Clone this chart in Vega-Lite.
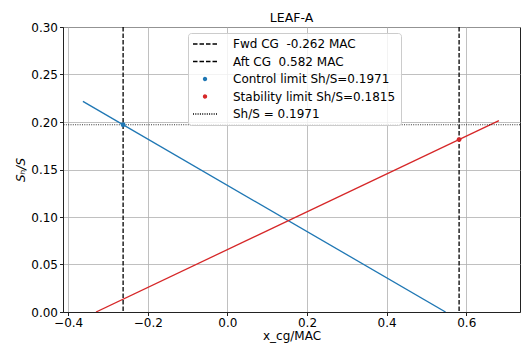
{
  "$schema": "https://vega.github.io/schema/vega-lite/v6.json",
  "width": 457,
  "height": 285,
  "autosize": {"type": "none"},
  "padding": {"left": 63, "top": 27, "right": 8, "bottom": 32},
  "background": "white",
  "title": {"text": "LEAF-A", "fontSize": 12.5, "font": "DejaVu Sans", "fontWeight": "normal", "color": "black", "offset": -3.5},
  "config": {
    "view": {"stroke": "#222", "strokeWidth": 1},
    "axis": {
      "labelFont": "DejaVu Sans", "labelFontSize": 12, "labelColor": "black",
      "titleFont": "DejaVu Sans", "titleFontSize": 12, "titleFontWeight": "normal", "titleColor": "black",
      "tickColor": "#222", "domainColor": "#222", "tickSize": 3.5, "labelPadding": 2,
      "gridColor": "#b0b0b0", "gridWidth": 0.8
    },
    "legend": {
      "orient": "none", "legendX": 125, "legendY": 6,
      "labelFont": "DejaVu Sans", "labelFontSize": 12, "labelColor": "black", "labelLimit": 300,
      "symbolSize": 100, "symbolStrokeWidth": 1.3, "symbolOffset": 6, "labelOffset": 22,
      "rowPadding": 5.5, "padding": 5,
      "fillColor": "rgba(255,255,255,0.8)", "strokeColor": "#cccccc", "cornerRadius": 3
    }
  },
  "datasets": {
    "lines": [
      {"series": "Control", "x": -0.363, "y": 0.2217},
      {"series": "Control", "x": 0.548, "y": 0.0},
      {"series": "Stability", "x": -0.33, "y": 0.0},
      {"series": "Stability", "x": 0.682, "y": 0.2014}
    ],
    "cg": [
      {"x": -0.262, "label": "Fwd CG\u00a0 -0.262 MAC"},
      {"x": 0.582, "label": "Aft CG\u00a0 0.582 MAC"}
    ],
    "pts": [
      {"x": -0.262, "y": 0.1971, "label": "Control limit Sh/S=0.1971"},
      {"x": 0.582, "y": 0.1815, "label": "Stability limit Sh/S=0.1815"}
    ],
    "hline": [
      {"y": 0.1971, "label": "Sh/S = 0.1971"}
    ]
  },
  "layer": [
    {
      "data": {"name": "lines"},
      "mark": {"type": "line", "strokeWidth": 1.3, "clip": true},
      "encoding": {
        "x": {
          "field": "x", "type": "quantitative",
          "scale": {"domain": [-0.413, 0.735], "nice": false, "zero": false},
          "axis": {"title": "x_cg/MAC", "values": [-0.4, -0.2, 0, 0.2, 0.4, 0.6], "format": ".1f", "labelExpr": "replace(datum.label, '-', '−')", "titlePadding": 2, "grid": true}
        },
        "y": {
          "field": "y", "type": "quantitative",
          "scale": {"domain": [0, 0.3], "nice": false, "zero": false},
          "axis": {"title": "Sₕ/S", "titleFontStyle": "italic", "values": [0, 0.05, 0.1, 0.15, 0.2, 0.25, 0.3], "format": ".2f", "titlePadding": 3, "grid": true}
        },
        "detail": {"field": "series", "type": "nominal"},
        "stroke": {"field": "series", "type": "nominal", "scale": {"domain": ["Control", "Stability"], "range": ["#1f77b4", "#d62728"]}, "legend": null}
      }
    },
    {
      "data": {"name": "hline"},
      "mark": {"type": "rule", "strokeWidth": 0.8, "strokeDash": [1, 1.3]},
      "encoding": {
        "y": {"field": "y", "type": "quantitative"},
        "color": {
          "field": "label", "type": "nominal",
          "scale": {
            "domain": ["Fwd CG\u00a0 -0.262 MAC", "Aft CG\u00a0 0.582 MAC", "Control limit Sh/S=0.1971", "Stability limit Sh/S=0.1815", "Sh/S = 0.1971"],
            "range": ["black", "black", "#1f77b4", "#d62728", "black"]
          },
          "legend": {
            "title": null,
            "encode": {
              "symbols": {
                "update": {
                  "shape": {"signal": "indexof(datum.value, 'limit') >= 0 ? 'M-0.3,0A0.3,0.3,0,1,0,0.3,0A0.3,0.3,0,1,0,-0.3,0Z' : 'M-2.4,0H2.4'"},
                  "fill": {"signal": "indexof(datum.value, 'limit') >= 0 ? scale('color', datum.value) : 'transparent'"},
                  "stroke": {"signal": "indexof(datum.value, 'Sh/S =') >= 0 ? '#444' : scale('color', datum.value)"},
                  "strokeDash": {"signal": "indexof(datum.value, 'CG') >= 0 ? [4.5, 2] : (indexof(datum.value, 'Sh/S =') >= 0 ? [1, 1.3] : [1, 0])"},
                  "opacity": {"value": 1}
                }
              }
            }
          }
        }
      }
    },
    {
      "data": {"name": "cg"},
      "mark": {"type": "rule", "strokeWidth": 1.3, "strokeDash": [4.5, 2]},
      "encoding": {
        "x": {"field": "x", "type": "quantitative"},
        "color": {"field": "label", "type": "nominal"}
      }
    },
    {
      "data": {"name": "pts"},
      "mark": {"type": "point", "filled": true, "opacity": 1, "size": 24},
      "encoding": {
        "x": {"field": "x", "type": "quantitative"},
        "y": {"field": "y", "type": "quantitative"},
        "color": {"field": "label", "type": "nominal"}
      }
    }
  ]
}
